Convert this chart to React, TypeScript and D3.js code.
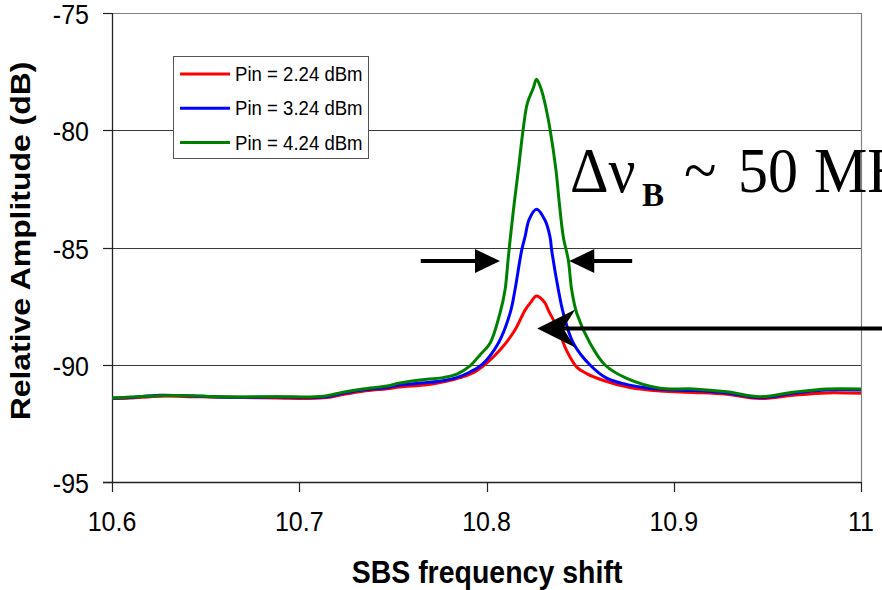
import React from 'react';
import * as d3 from 'd3';

const xTicks = [10.6, 10.7, 10.8, 10.9, 11];
const yTicks = [-95, -90, -85, -80, -75];
const gridValues = [-90, -85, -80];

const seriesNames = ['Pin = 2.24 dBm', 'Pin = 3.24 dBm', 'Pin = 4.24 dBm'];
const seriesColors = ['#ff0000', '#0000ff', '#008000'];

const redX = [10.6, 10.6096, 10.6256, 10.6433, 10.6523, 10.67, 10.6881, 10.7057, 10.7148, 10.7234, 10.734, 10.7469, 10.7538, 10.7682, 10.7752, 10.7858, 10.7948, 10.8072, 10.8152, 10.8206, 10.8237, 10.8267, 10.8312, 10.833, 10.8384, 10.8428, 10.8482, 10.8535, 10.8621, 10.8766, 10.8927, 10.9104, 10.9283, 10.946, 10.9638, 10.9817, 11.0];
const redY = [-91.44, -91.42, -91.34, -91.36, -91.37, -91.4, -91.42, -91.44, -91.4, -91.27, -91.13, -91.02, -90.95, -90.85, -90.76, -90.55, -90.25, -89.37, -88.52, -87.67, -87.33, -87.07, -87.36, -87.67, -88.52, -89.4, -90.1, -90.38, -90.66, -90.97, -91.12, -91.18, -91.26, -91.44, -91.3, -91.2, -91.22];

const blueX = [10.6, 10.6096, 10.6256, 10.6433, 10.6523, 10.67, 10.6881, 10.7057, 10.7148, 10.7234, 10.734, 10.7469, 10.7538, 10.7682, 10.7768, 10.7841, 10.7912, 10.7974, 10.8063, 10.8126, 10.8152, 10.8188, 10.8206, 10.8228, 10.8267, 10.8312, 10.8339, 10.8348, 10.8384, 10.841, 10.8464, 10.8553, 10.8642, 10.8766, 10.8927, 10.9104, 10.9283, 10.946, 10.9638, 10.9817, 11.0];
const blueY = [-91.42, -91.4, -91.3, -91.33, -91.36, -91.39, -91.38, -91.4, -91.36, -91.22, -91.08, -90.97, -90.86, -90.76, -90.68, -90.55, -90.31, -90.01, -89.08, -87.8, -86.81, -85.11, -84.54, -83.8, -83.37, -83.83, -84.54, -85.11, -86.81, -87.8, -89.08, -90.01, -90.57, -90.87, -91.05, -91.1, -91.2, -91.4, -91.22, -91.08, -91.08];

const greenX = [10.6, 10.6096, 10.6256, 10.6433, 10.6523, 10.67, 10.6881, 10.7057, 10.7148, 10.7234, 10.734, 10.7469, 10.7538, 10.7682, 10.7768, 10.7842, 10.7912, 10.7965, 10.8019, 10.8072, 10.8099, 10.8115, 10.8126, 10.8148, 10.817, 10.8196, 10.8218, 10.825, 10.8267, 10.829, 10.8312, 10.8339, 10.8371, 10.8389, 10.841, 10.8437, 10.8455, 10.8482, 10.8553, 10.8633, 10.8749, 10.8927, 10.9104, 10.9283, 10.946, 10.9638, 10.9817, 11.0];
const greenY = [-91.42, -91.38, -91.32, -91.32, -91.35, -91.37, -91.36, -91.37, -91.32, -91.17, -91.03, -90.91, -90.78, -90.62, -90.55, -90.4, -90.05, -89.58, -89.08, -87.8, -86.81, -85.54, -84.68, -83.12, -81.7, -79.95, -78.85, -78.2, -77.83, -78.2, -78.85, -79.95, -81.7, -83.12, -84.54, -85.54, -86.81, -87.8, -89.08, -90.01, -90.58, -91.0, -91.03, -91.15, -91.36, -91.17, -91.03, -91.03];

// annotation anchors in data units
const widthArrowY = -85.58;
const leftArrow = [10.7649, 10.8072];
const rightArrow = [10.8778, 10.8442];
const pointerArrow = { y: -88.45, tip: 10.8271 };

const SANS = 'Liberation Sans, Arial, Helvetica, sans-serif';
const SERIF = 'Liberation Serif, Times New Roman, serif';
const SY = 1.12;

export default function App() {
  const W = 882, H = 590;
  const x = d3.scaleLinear().domain([10.6, 11]).range([112, 861]);
  const y = d3.scaleLinear().domain([-95, -75]).range([482, 13]);
  const line = d3.line<[number, number]>().x(d => x(d[0])).y(d => y(d[1])).curve(d3.curveCatmullRom.alpha(0.5));

  const series = [
    { xs: redX, ys: redY },
    { xs: blueX, ys: blueY },
    { xs: greenX, ys: greenY },
  ];

  const st = (px: number, py: number, sy = SY) => `translate(${px},${py}) scale(1,${sy})`;

  const ay = y(widthArrowY);
  const la0 = x(leftArrow[0]), la1 = x(leftArrow[1]);
  const ra0 = x(rightArrow[0]), ra1 = x(rightArrow[1]);
  const py = y(pointerArrow.y), pt = x(pointerArrow.tip);

  return (
    <svg width={W} height={H} style={{ position: 'absolute', left: 0, top: 0, background: '#fff' }}>
      <rect x={0} y={0} width={W} height={H} fill="#fff" />
      {/* grid */}
      {gridValues.map(v => (
        <line key={v} x1={x(10.6)} x2={x(11)} y1={Math.round(y(v)) + 0.5} y2={Math.round(y(v)) + 0.5} stroke="#3a3a3a" strokeWidth={1} />
      ))}
      {/* plot border top/right */}
      <line x1={x(10.6)} x2={x(11)} y1={Math.round(y(-75)) + 0.5} y2={Math.round(y(-75)) + 0.5} stroke="#808080" strokeWidth={1.2} />
      <line x1={Math.round(x(11)) + 0.5} x2={Math.round(x(11)) + 0.5} y1={y(-75)} y2={y(-95)} stroke="#808080" strokeWidth={1.2} />
      {/* axes */}
      <line x1={Math.round(x(10.6)) + 0.5} x2={Math.round(x(10.6)) + 0.5} y1={y(-75)} y2={y(-95)} stroke="#222" strokeWidth={1.3} />
      <line x1={x(10.6) - 9} x2={x(11)} y1={Math.round(y(-95)) + 0.5} y2={Math.round(y(-95)) + 0.5} stroke="#222" strokeWidth={1.3} />
      {yTicks.map(v => (
        <g key={v}>
          <line x1={x(10.6) - 9} x2={x(10.6)} y1={Math.round(y(v)) + 0.5} y2={Math.round(y(v)) + 0.5} stroke="#222" strokeWidth={1.2} />
          <text transform={st(89, y(v) + 11)} textAnchor="end" fontFamily={SANS} fontSize={25} fill="#000">{v}</text>
        </g>
      ))}
      {xTicks.map(v => (
        <g key={v}>
          <line x1={Math.round(x(v)) + 0.5} x2={Math.round(x(v)) + 0.5} y1={y(-95)} y2={y(-95) + 10} stroke="#222" strokeWidth={1.2} />
          <text transform={st(x(v), 531)} textAnchor="middle" fontFamily={SANS} fontSize={25} fill="#000">{v}</text>
        </g>
      ))}
      {/* axis titles */}
      <text transform={`translate(487,583) scale(1,${SY})`} textAnchor="middle" fontFamily={SANS} fontWeight="bold" fontSize={28.5} fill="#000">SBS frequency shift</text>
      <text transform={`translate(30,241) scale(1,${SY}) rotate(-90)`} textAnchor="middle" fontFamily={SANS} fontWeight="bold" fontSize={28.5} fill="#000">Relative Amplitude (dB)</text>

      {/* curves */}
      {series.map((s, i) => (
        <path key={i} d={line(s.xs.map((xv, j) => [xv, s.ys[j]] as [number, number])) || ''} fill="none" stroke={seriesColors[i]} strokeWidth={3} strokeLinejoin="round" />
      ))}

      {/* legend */}
      <rect x={173.5} y={56.5} width={195} height={102} fill="#fff" stroke="#555" strokeWidth={1} />
      {seriesNames.map((n, i) => {
        const cy = 74 + i * 34.3;
        return (
          <g key={n}>
            <line x1={180} x2={230} y1={cy} y2={cy} stroke={seriesColors[i]} strokeWidth={3} />
            <text transform={st(235, cy + 7)} fontFamily={SANS} fontSize={18.6} fill="#000">{n}</text>
          </g>
        );
      })}

      {/* width arrows */}
      <line x1={la0} x2={la1 - 24} y1={ay} y2={ay} stroke="#000" strokeWidth={4} />
      <path d={`M${la1},${ay} L${la1 - 25},${ay - 12} L${la1 - 25},${ay + 12} Z`} fill="#000" />
      <line x1={ra0} x2={ra1 + 24} y1={ay} y2={ay} stroke="#000" strokeWidth={4} />
      <path d={`M${ra1},${ay} L${ra1 + 25},${ay - 12} L${ra1 + 25},${ay + 12} Z`} fill="#000" />
      {/* pointer arrow */}
      <line x1={pt + 24} x2={W + 20} y1={py} y2={py} stroke="#000" strokeWidth={4} />
      <path d={`M${pt},${py} L${pt + 38},${py - 19} L${pt + 26},${py} L${pt + 38},${py + 19} Z`} fill="#000" />

      {/* annotation */}
      <g transform={st(0, 192, 1.05)} fontFamily={SERIF} fill="#000">
        <text x={570} y={0} fontSize={60}>Δν</text>
        <text x={642} y={13} fontSize={33} fontWeight="bold">B</text>
        <text x={684} y={0} fontSize={60}>~</text>
        <text x={738} y={0} fontSize={60}>50</text>
        <text x={814} y={0} fontSize={60}>MHz</text>
      </g>
    </svg>
  );
}
